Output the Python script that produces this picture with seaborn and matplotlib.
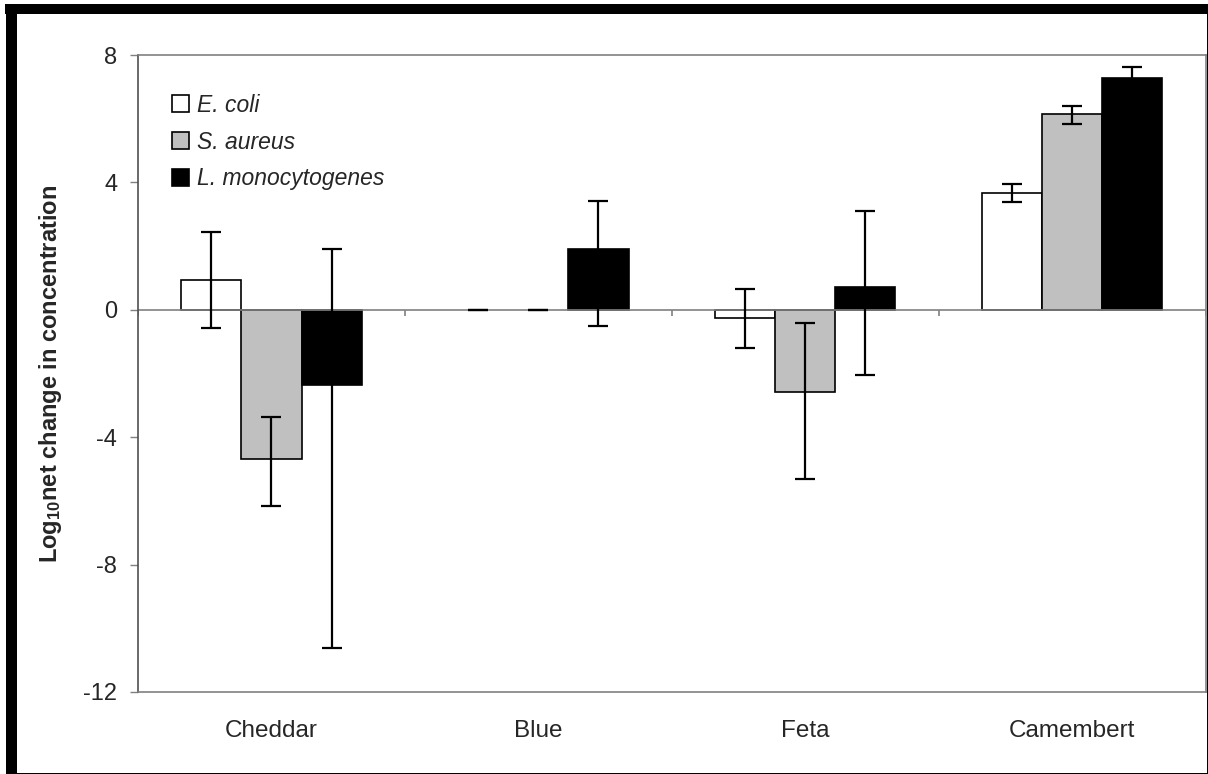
import numpy as np
import pandas as pd
import matplotlib
matplotlib.use("Agg")
import matplotlib.pyplot as plt
from matplotlib.patches import Rectangle
import seaborn as sns

# ---- data -------------------------------------------------------------
cheeses = ["Cheddar", "Blue", "Feta", "Camembert"]
species = ["E. coli", "S. aureus", "L. monocytogenes"]

ecoli = [0.95, 0.0, -0.27, 3.66]
saureus = [-4.68, 0.0, -2.57, 6.15]
lmono = [-2.35, 1.90, 0.73, 7.28]

# lower / upper ends of the error bars
ecoli_lo = [-0.56, 0.0, -1.19, 3.40]
ecoli_hi = [2.44, 0.0, 0.65, 3.96]
saureus_lo = [-6.15, 0.0, -5.30, 5.84]
saureus_hi = [-3.38, 0.0, -0.43, 6.41]
lmono_lo = [-10.62, -0.51, -2.05, 6.93]
lmono_hi = [1.90, 3.42, 3.10, 7.63]

yticks = [8, 4, 0, -4, -8, -12]
colors = ["#FFFFFF", "#C0C0C0", "#000000"]

# ---- style ------------------------------------------------------------
sns.set_theme(style="white")
plt.rcParams["font.family"] = ["Liberation Sans", "DejaVu Sans"]
plt.rcParams["mathtext.fontset"] = "custom"
plt.rcParams["mathtext.rm"] = "Liberation Sans"
plt.rcParams["mathtext.bf"] = "Liberation Sans:bold"
plt.rcParams["mathtext.it"] = "Liberation Sans:italic"

FS_TICK = 17
FS_CAT = 17.5
FS_LEG = 16.5
FS_LAB = 17

df = pd.DataFrame({
    "cheese": cheeses * 3,
    "species": np.repeat(species, len(cheeses)),
    "value": ecoli + saureus + lmono,
})
lows = [ecoli_lo, saureus_lo, lmono_lo]
highs = [ecoli_hi, saureus_hi, lmono_hi]
vals = [ecoli, saureus, lmono]

W, H = 1208, 774
fig = plt.figure(figsize=(W / 100, H / 100), dpi=100)
ax = fig.add_axes([138 / W, (H - 692) / H, (1205.5 - 138) / W, (692 - 55) / H])

sns.barplot(data=df, x="cheese", y="value", hue="species", order=cheeses,
            hue_order=species, palette=colors, width=0.676, errorbar=None,
            edgecolor="black", linewidth=1.2, saturation=1, ax=ax, legend=False)

# error bars and hiding of zero-height bars
for cont, v, lo, hi in zip(ax.containers, vals, lows, highs):
    xs = []
    for bar, val in zip(cont.patches, v):
        xs.append(bar.get_x() + bar.get_width() / 2)
        if val == 0:
            bar.set_linewidth(0)
    v = np.array(v)
    yerr = np.vstack([v - np.array(lo), np.array(hi) - v])
    ax.errorbar(xs, v, yerr=yerr, fmt="none", ecolor="black",
                elinewidth=1.6, capsize=7.5, capthick=1.6, zorder=4)

ax.set_ylim(-12, 8)
ax.set_xlim(-0.5, len(cheeses) - 0.5)
ax.set_yticks(yticks)
ax.set_yticklabels([str(t) for t in yticks], fontsize=FS_TICK)
ax.tick_params(axis="y", direction="out", length=6, width=1, color="#808080",
               pad=9, left=True)
ax.tick_params(axis="x", length=0, pad=20, labelsize=FS_CAT)
ax.set_xlabel("")
ax.set_ylabel(r"Log$_{\mathbf{10}}$net change in concentration",
              fontsize=FS_LAB, fontweight="bold")
ax.yaxis.set_label_coords(-0.069, 0.5)

for side in ["top", "right", "bottom"]:
    ax.spines[side].set_color("#808080")
    ax.spines[side].set_linewidth(1.2)
ax.spines["left"].set_color("#505050")
ax.spines["left"].set_linewidth(1.2)

# zero line with category dividers
ax.axhline(0, color="#808080", lw=1.2, zorder=1)
bounds = np.arange(len(cheeses) + 1) - 0.5
ax.vlines(bounds, -0.2, 0, color="#808080", lw=1.2, zorder=1)

leg = ax.legend(ax.containers, species, loc="upper left",
                bbox_to_anchor=(0.032, 0.939), frameon=False,
                prop={"style": "italic", "size": FS_LEG}, handlelength=0.75,
                handleheight=0.75, handletextpad=0.35, labelspacing=0.6,
                borderpad=0, borderaxespad=0)

# chart frame
fig.add_artist(Rectangle((5 / W, (H - 14) / H), (W - 5) / W, 10 / H,
                         transform=fig.transFigure, color="black", lw=0))
fig.add_artist(Rectangle((6 / W, 0), 11 / W, (H - 4) / H,
                         transform=fig.transFigure, color="black", lw=0))
fig.add_artist(Rectangle(((W - 1.5) / W, 0), 1.5 / W, (H - 4) / H,
                         transform=fig.transFigure, color="black", lw=0))
fig.add_artist(Rectangle((6 / W, 0), (W - 6) / W, 1.5 / H,
                         transform=fig.transFigure, color="black", lw=0))

fig.savefig("out.png", dpi=100)
